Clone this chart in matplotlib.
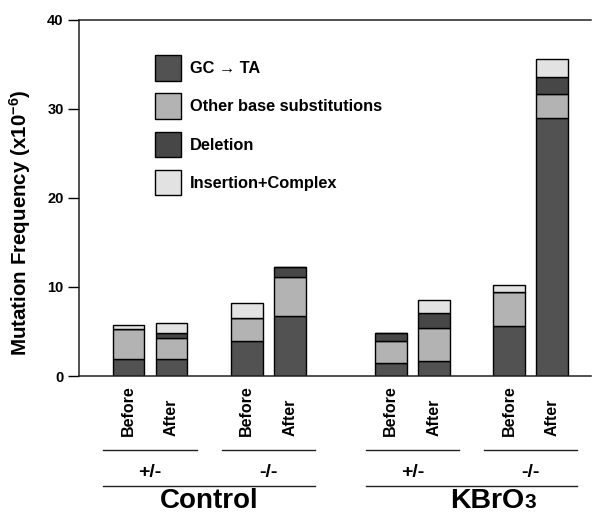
import numpy as np
import matplotlib
matplotlib.use("Agg")
import matplotlib.pyplot as plt

plt.rcParams['font.family'] = ['Liberation Sans', 'DejaVu Sans']
plt.rcParams['font.weight'] = 'bold'
plt.rcParams['mathtext.fontset'] = 'custom'
plt.rcParams['mathtext.rm'] = 'Liberation Sans:bold'
plt.rcParams['mathtext.bf'] = 'Liberation Sans:bold'
plt.rcParams['mathtext.default'] = 'rm'

# bars: Control +/- (Before, After), Control -/-, KBrO3 +/-, KBrO3 -/-
conditions = ["Before", "After"] * 4
gc_ta = [1.9, 1.9, 3.92, 6.73, 1.5, 1.72, 5.57, 28.92]
other_sub = [3.33, 2.4, 2.58, 4.37, 2.4, 3.63, 3.88, 2.73]
deletion = [0.0, 0.56, 0.0, 1.15, 0.97, 1.71, 0.0, 1.87]
ins_complex = [0.52, 1.12, 1.68, 0.0, 0.0, 1.49, 0.75, 2.02]

genotypes = ["+/-", "-/-", "+/-", "-/-"]

series_labels = ["GC \u2192 TA", "Other base substitutions", "Deletion", "Insertion+Complex"]
series_colors = ['#525252', '#b3b3b3', '#474747', '#e2e2e2']

x = np.array([0, 1, 2.75, 3.75, 6.1, 7.1, 8.85, 9.85])
width = 0.74

fig = plt.figure(figsize=(5.93, 5.15), dpi=100)
ax = fig.add_axes([0.1332, 0.2699, 0.8634, 0.6922])

bottom = np.zeros(len(x))
handles = []
for vals, lab, col in zip([gc_ta, other_sub, deletion, ins_complex], series_labels, series_colors):
    vals = np.array(vals)
    b = ax.bar(x, vals, width, bottom=bottom, color=col, edgecolor='black',
               linewidth=1.0, label=lab)
    handles.append(b)
    bottom += vals

ax.set_xlim(-1.151, 10.756)
ax.set_ylim(0, 40)
ax.set_yticks([0, 10, 20, 30, 40])
ax.tick_params(axis='y', direction='out', length=8, width=1, labelsize=10.5, pad=3)
ax.set_xticks([])
ax.spines['right'].set_visible(False)
for s in ['left', 'top', 'bottom']:
    ax.spines[s].set_linewidth(1.1)
    ax.spines[s].set_color('#222222')

fig.text(20 / 593, 1 - 223 / 515, "Mutation Frequency (x10$^{-6}$)", rotation=90,
         ha='center', va='center', fontsize=14.8, fontweight='bold')

ax.legend(handles=handles, loc='upper left', bbox_to_anchor=(0.1484, 0.9004),
          frameon=False, fontsize=11.8, handlelength=1.57, handleheight=2.03,
          handletextpad=0.57, labelspacing=0.77, borderaxespad=0, borderpad=0)

tr = ax.get_xaxis_transform()
for xi, c in zip(x, conditions):
    ax.text(xi, -0.168, c, transform=tr, rotation=90, ha='center', va='bottom',
            fontsize=11.5, fontweight='bold')

pair_centers = [(x[i] + x[i + 1]) / 2 for i in range(0, len(x), 2)]
half = 1.085
for pc, g in zip(pair_centers, genotypes):
    ax.plot([pc - half, pc + half], [-0.2076, -0.2076], transform=tr, color='#222222',
            lw=1.0, clip_on=False)
    ax.text(pc, -0.272, g, transform=tr, ha='center', va='center', fontsize=14,
            fontweight='bold')

group_ends = []
for k in range(2):
    a = pair_centers[2 * k] - half
    b = pair_centers[2 * k + 1] + half
    ax.plot([a, b], [-0.3086, -0.3086], transform=tr, color='#222222', lw=1.0, clip_on=False)
    group_ends.append((a, b))

a, b = group_ends[0]
ax.text((a + b) / 2, -0.371, "Control", transform=tr, ha='center', va='baseline',
        fontsize=20, fontweight='bold')

# KBrO3 label: formula with a small baseline "3", set slightly right of centre
kb = ax.text(7.48, -0.371, "KBrO", transform=tr, ha='left', va='baseline',
             fontsize=20.5, fontweight='bold')
ax.annotate("3", xy=(1, -0.371), xycoords=(kb, tr), ha='left', va='baseline',
            fontsize=15, fontweight='bold')

fig.savefig("out.png", dpi=100)
